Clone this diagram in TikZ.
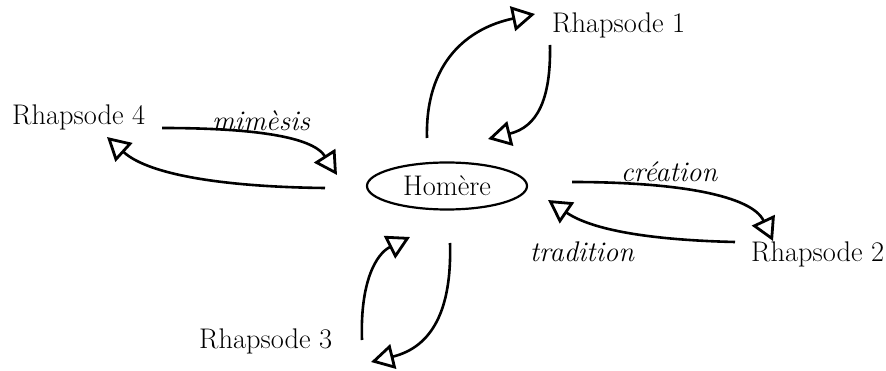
\documentclass[tikz,border=0pt]{standalone}
\usetikzlibrary{shapes.geometric,arrows.meta}
\begin{document}
\begin{tikzpicture}[x=1pt,y=-1pt,
  lbl/.style={inner sep=0pt,font=\fontsize{28.4}{32}\selectfont},
  itl/.style={inner sep=0pt,font=\fontsize{28.4}{32}\selectfont\itshape},
  flow/.style={line width=2.6pt,-{Triangle[open,length=23pt,width=25pt,line width=2.8pt]}},
  homer/.style={draw,ellipse,line width=2.2pt,minimum width=160pt,minimum height=47pt,inner sep=0pt,font=\fontsize{28.4}{32}\selectfont}]
\useasboundingbox (0,0) rectangle (886,371);
% nodes
\node[homer] (hom) at (447,186) {Homère};
\node[lbl,anchor=base west] (r1) at (552,33) {Rhapsode 1};
\node[lbl,anchor=base west] (r2) at (751,262) {Rhapsode 2};
\node[lbl,anchor=base west] (r3) at (199,348) {Rhapsode 3};
\node[lbl,anchor=base west] (r4) at (12,125) {Rhapsode 4};
\node[itl,anchor=base] (mim) at (261,131) {mimèsis};
\node[itl,anchor=base] (cre) at (669,182) {création};
\node[itl,anchor=base] (tra) at (582,262) {tradition};
% curve end points
\coordinate (a4s) at (162,128);  \coordinate (a4e) at (337,175);
\coordinate (b4s) at (325,188);  \coordinate (b4e) at (107,137);
\coordinate (a2s) at (572,182);  \coordinate (a2e) at (773,241);
\coordinate (b2s) at (735,242);  \coordinate (b2e) at (548,200);
\coordinate (a1s) at (427,138);  \coordinate (a1e) at (535,14);
\coordinate (b1s) at (550,45);   \coordinate (b1e) at (488,139);
\coordinate (a3s) at (362,340);  \coordinate (a3e) at (410,237);
\coordinate (b3s) at (450,243);  \coordinate (b3e) at (371,362);
% Rhapsode 4 loop
\draw[flow] (a4s) .. controls (250,128) and (312,136) .. (a4e);
\draw[flow] (b4s) .. controls (230,187) and (150,176) .. (b4e);
% Rhapsode 2 loop
\draw[flow] (a2s) .. controls (680,182) and (752,196) .. (a2e);
\draw[flow] (b2s) .. controls (650,240) and (592,230) .. (b2e);
% Rhapsode 1 loop
\draw[flow] (a1s) .. controls (425,62) and (468,28) .. (a1e);
\draw[flow] (b1s) .. controls (551,100) and (537,127) .. (b1e);
% Rhapsode 3 loop
\draw[flow] (a3s) .. controls (360,282) and (376,254) .. (a3e);
\draw[flow] (b3s) .. controls (452,310) and (432,347) .. (b3e);
\end{tikzpicture}
\end{document}
